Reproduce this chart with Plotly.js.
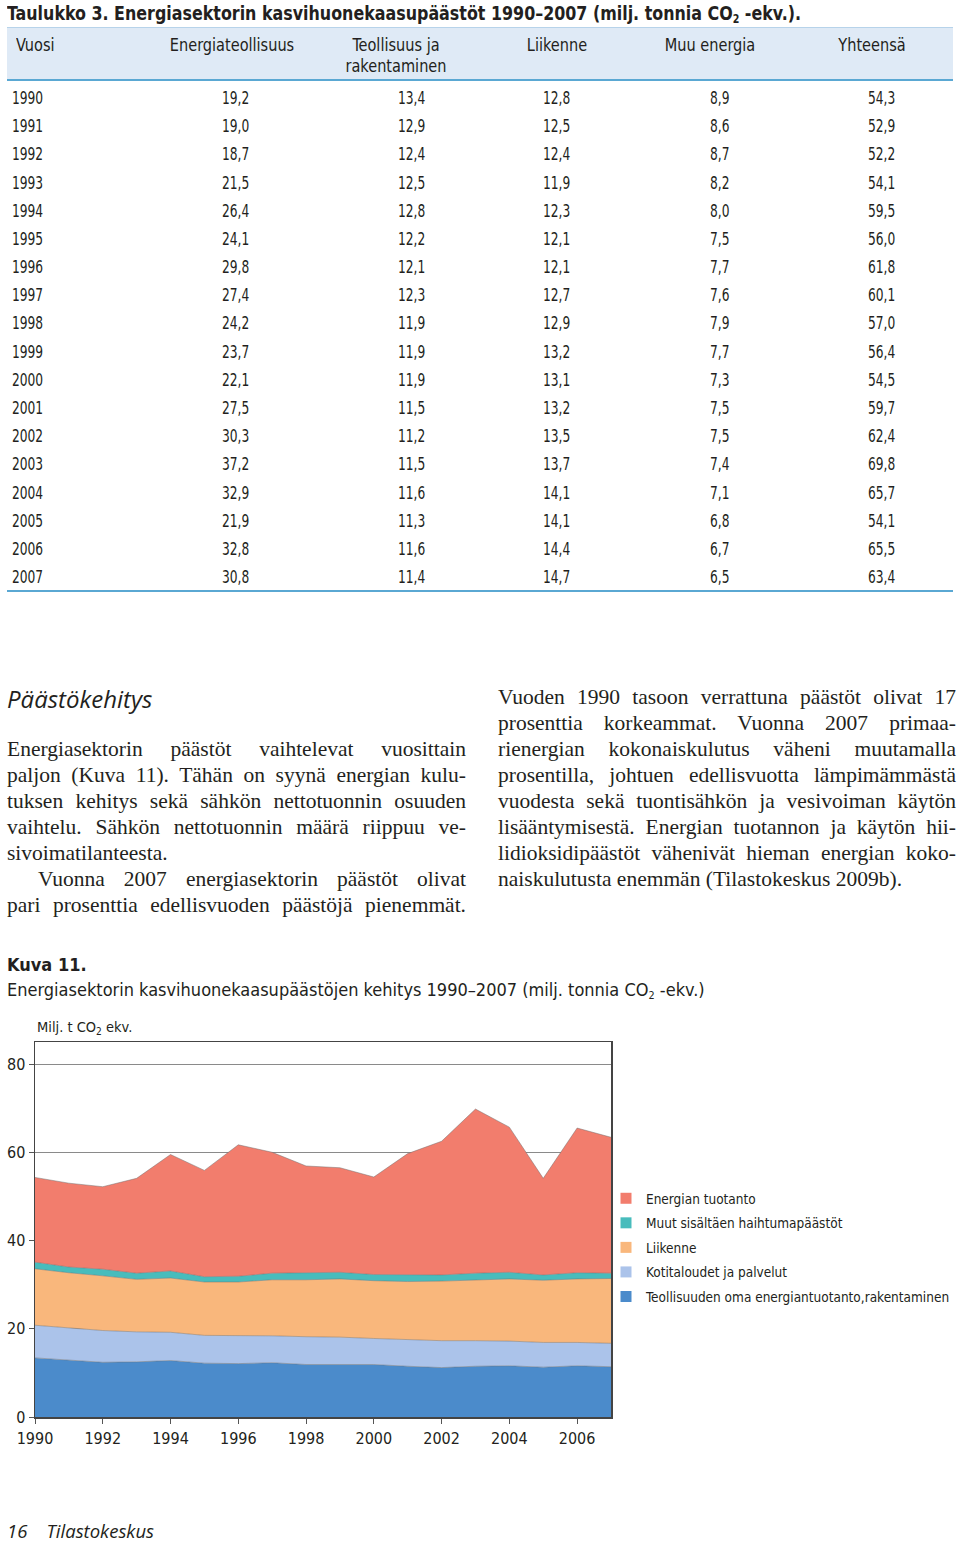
<!DOCTYPE html>
<html>
<head>
<meta charset="utf-8">
<script src="https://cdn.plot.ly/plotly-3.0.1.min.js"></script>
<style>
  body { margin: 0; width: 960px; height: 1541px; background: #fff; position: relative; overflow: hidden; color: #231f20; }
  .sans { font-family: "Liberation Sans Narrow", "DejaVu Sans Condensed", "Roboto Condensed", Roboto, sans-serif; }
  .abs { position: absolute; white-space: nowrap; }
  #title { left: 7px; top: 1px; font-size: 19px; font-weight: bold; line-height: 24px; transform: scaleX(0.93); transform-origin: left center; }
  #title sub, #caption sub { font-size: 60%; vertical-align: -3px; line-height: 0; }
  #hdr { left: 7px; top: 27px; width: 946px; height: 51px; background: #dfeaf6; border-top: 1px solid #b7d3ea; border-bottom: 2px solid #5aa8d3; }
  .hd { position: absolute; font-size: 17px; line-height: 21px; text-align: center; white-space: nowrap; transform: scaleX(0.95); }
  .cell { position: absolute; font-size: 17px; line-height: 20px; transform: scaleX(0.8); transform-origin: left center; }
  #tblEnd { left: 7px; top: 590px; width: 946px; height: 0; border-top: 2px solid #5aa8d3; }
  #sub { left: 7px; top: 684px; font-family: "Open Sans", "Noto Sans", sans-serif; font-style: italic; font-size: 24px; line-height: 30px; }
  .col { position: absolute; font-family: "Liberation Serif", "DejaVu Serif", serif; font-size: 21.5px; line-height: 26px; }
  .col div { text-align: justify; text-align-last: justify; white-space: nowrap; }
  .col div.last { text-align-last: left; }
  #kuva { left: 7px; top: 953px; font-size: 18px; font-weight: bold; line-height: 24px; }
  #caption { left: 7px; top: 978px; font-size: 18px; line-height: 24px; }
  #chart { position: absolute; left: 0; top: 1000px; width: 960px; height: 480px; }
  #foot { left: 7px; top: 1518px; font-family: "Open Sans", "Noto Sans", sans-serif; font-style: italic; font-size: 18.5px; line-height: 26px; }
</style>
</head>
<body>
<div id="title" class="abs sans">Taulukko 3. Energiasektorin kasvihuonekaasupäästöt 1990–2007 (milj. tonnia CO<sub>2</sub> -ekv.).</div>
<div id="hdr" class="abs sans"></div>
<div id="rows" class="sans"></div>
<div id="tblEnd" class="abs"></div>

<div id="sub" class="abs">Päästökehitys</div>
<div class="col" style="left:7px; top:736px; width:459px;">
  <div>Energiasektorin päästöt vaihtelevat vuosittain</div>
  <div>paljon (Kuva 11). Tähän on syynä energian kulu-</div>
  <div>tuksen kehitys sekä sähkön nettotuonnin osuuden</div>
  <div>vaihtelu. Sähkön nettotuonnin määrä riippuu ve-</div>
  <div class="last">sivoimatilanteesta.</div>
  <div style="padding-left:31px;">Vuonna 2007 energiasektorin päästöt olivat</div>
  <div>pari prosenttia edellisvuoden päästöjä pienemmät.</div>
</div>
<div class="col" style="left:498px; top:684px; width:458px;">
  <div>Vuoden 1990 tasoon verrattuna päästöt olivat 17</div>
  <div>prosenttia korkeammat. Vuonna 2007 primaa-</div>
  <div>rienergian kokonaiskulutus väheni muutamalla</div>
  <div>prosentilla, johtuen edellisvuotta lämpimämmästä</div>
  <div>vuodesta sekä tuontisähkön ja vesivoiman käytön</div>
  <div>lisääntymisestä. Energian tuotannon ja käytön hii-</div>
  <div>lidioksidipäästöt vähenivät hieman energian koko-</div>
  <div class="last">naiskulutusta enemmän (Tilastokeskus 2009b).</div>
</div>

<div id="kuva" class="abs sans">Kuva 11.</div>
<div id="caption" class="abs sans">Energiasektorin kasvihuonekaasupäästöjen kehitys 1990–2007 (milj. tonnia CO<sub>2</sub> -ekv.)</div>
<div id="chart"></div>
<div id="foot" class="abs">16&nbsp;&nbsp;&nbsp;&nbsp;Tilastokeskus</div>

<script>
// Taulukko 3 (milj. t CO2-ekv.)
const years = [1990, 1991, 1992, 1993, 1994, 1995, 1996, 1997, 1998, 1999,
               2000, 2001, 2002, 2003, 2004, 2005, 2006, 2007];
const energiateollisuus = [19.2, 19.0, 18.7, 21.5, 26.4, 24.1, 29.8, 27.4, 24.2, 23.7,
                           22.1, 27.5, 30.3, 37.2, 32.9, 21.9, 32.8, 30.8];
const teollisuus = [13.4, 12.9, 12.4, 12.5, 12.8, 12.2, 12.1, 12.3, 11.9, 11.9,
                    11.9, 11.5, 11.2, 11.5, 11.6, 11.3, 11.6, 11.4];
const liikenne = [12.8, 12.5, 12.4, 11.9, 12.3, 12.1, 12.1, 12.7, 12.9, 13.2,
                  13.1, 13.2, 13.5, 13.7, 14.1, 14.1, 14.4, 14.7];
const muuEnergia = [8.9, 8.6, 8.7, 8.2, 8.0, 7.5, 7.7, 7.6, 7.9, 7.7,
                    7.3, 7.5, 7.5, 7.4, 7.1, 6.8, 6.7, 6.5];
const yhteensa = [54.3, 52.9, 52.2, 54.1, 59.5, 56.0, 61.8, 60.1, 57.0, 56.4,
                  54.5, 59.7, 62.4, 69.8, 65.7, 54.1, 65.5, 63.4];

// Kuva 11: muu energia split
const kotitaloudet = [7.4, 7.3, 7.2, 6.8, 6.4, 6.3, 6.4, 6.1, 6.3, 6.2,
                      5.9, 6.0, 6.1, 5.8, 5.6, 5.6, 5.3, 5.3];
const muut = [1.5, 1.3, 1.5, 1.4, 1.6, 1.2, 1.3, 1.5, 1.6, 1.5,
              1.4, 1.5, 1.4, 1.6, 1.5, 1.2, 1.4, 1.2];

const headers = [
  { text: 'Vuosi', x: 16, align: 'left' },
  { text: 'Energiateollisuus', x: 232 },
  { text: 'Teollisuus ja<br>rakentaminen', x: 396 },
  { text: 'Liikenne', x: 557 },
  { text: 'Muu energia', x: 710 },
  { text: 'Yhteensä', x: 872 },
];
const colX = [12, 222, 398, 543, 710, 868];

/* --- Table --- */
function renderTable() {
  const fmt = v => v.toFixed(1).replace('.', ',');
  let html = '';
  headers.forEach(h => {
    if (h.align === 'left') {
      html += `<div class="hd" style="left:${h.x}px; top:35px; text-align:left; transform-origin:left center;">${h.text}</div>`;
    } else {
      html += `<div class="hd" style="left:${h.x - 100}px; width:200px; top:35px;">${h.text}</div>`;
    }
  });
  const rowH = (576 - 97) / 17;
  years.forEach((yr, i) => {
    const top = 98 + i * rowH - 10;
    const vals = [String(yr), fmt(energiateollisuus[i]), fmt(teollisuus[i]),
                  fmt(liikenne[i]), fmt(muuEnergia[i]), fmt(yhteensa[i])];
    vals.forEach((v, c) => {
      html += `<div class="cell" style="left:${colX[c]}px; top:${top.toFixed(1)}px;">${v}</div>`;
    });
  });
  document.getElementById('rows').innerHTML = html;
}

/* --- Stacked area chart --- */
const FONT = '"Liberation Sans Narrow", "DejaVu Sans Condensed", "Roboto Condensed", Roboto, sans-serif';
// stacking order, bottom to top
const series = [
  { y: teollisuus,        name: 'Teollisuuden oma energiantuotanto,rakentaminen', color: '#4b8bcb' },
  { y: kotitaloudet,      name: 'Kotitaloudet ja palvelut',                       color: '#abc3ea' },
  { y: liikenne,          name: 'Liikenne',                                       color: '#f9b77c' },
  { y: muut,              name: 'Muut sisältäen haihtumapäästöt',                  color: '#48bcbc' },
  { y: energiateollisuus, name: 'Energian tuotanto',                              color: '#f27d6d' },
];

function renderChart() {
  const traces = [];
  series.forEach(s => {
    traces.push({
      x: years, y: s.y, type: 'scatter', mode: 'lines',
      stackgroup: 'one', fillcolor: s.color,
      line: { color: 'rgba(110,110,110,0.6)', width: 0.8 },
      showlegend: false, hoverinfo: 'skip',
    });
  });
  // legend entries with square swatches, top layer first
  series.slice().reverse().forEach((s, i) => {
    traces.push({
      x: [null], y: [null], type: 'scatter', mode: 'markers',
      name: s.name, legendgroup: 'g' + i,
      marker: { symbol: 'square', size: 11, color: s.color },
    });
  });

  const layout = {
    width: 960, height: 480,
    margin: { l: 35, r: 349, t: 42, b: 63, autoexpand: false },
    paper_bgcolor: 'rgba(0,0,0,0)', plot_bgcolor: '#fff',
    font: { family: FONT, size: 16, color: '#231f20' },
    xaxis: {
      range: [1990, 2007], tickvals: [1990, 1992, 1994, 1996, 1998, 2000, 2002, 2004, 2006],
      ticks: 'outside', ticklen: 5, tickcolor: '#555', ticklabelstandoff: 1,
      showgrid: false, zeroline: false,
      showline: true, mirror: true, linecolor: '#444', linewidth: 1.5,
      tickfont: { size: 16 },
    },
    yaxis: {
      range: [0, 85], tickvals: [0, 20, 40, 60, 80],
      ticks: 'outside', ticklen: 5, tickcolor: '#555',
      showgrid: true, gridcolor: '#8a8a8a', gridwidth: 1, zeroline: false,
      showline: true, mirror: true, linecolor: '#444', linewidth: 1.5,
      tickfont: { size: 16 },
    },
    legend: {
      xref: 'container', yref: 'container',
      x: 606 / 960, y: 1 - (1183 - 1000) / 480, xanchor: 'left', yanchor: 'top',
      traceorder: 'grouped', tracegroupgap: 4,
      font: { family: FONT, size: 13.5, color: '#231f20' },
      bgcolor: 'rgba(0,0,0,0)',
    },
    annotations: [{
      xref: 'paper', yref: 'paper', x: 0, y: 1, xanchor: 'left', yanchor: 'bottom',
      yshift: 3, showarrow: false, text: 'Milj. t CO<sub>2</sub> ekv.',
      font: { family: FONT, size: 14.5, color: '#231f20' },
    }],
  };

  Plotly.newPlot('chart', traces, layout, { displayModeBar: false, staticPlot: true });
}

renderTable();
renderChart();
</script>
</body>
</html>
